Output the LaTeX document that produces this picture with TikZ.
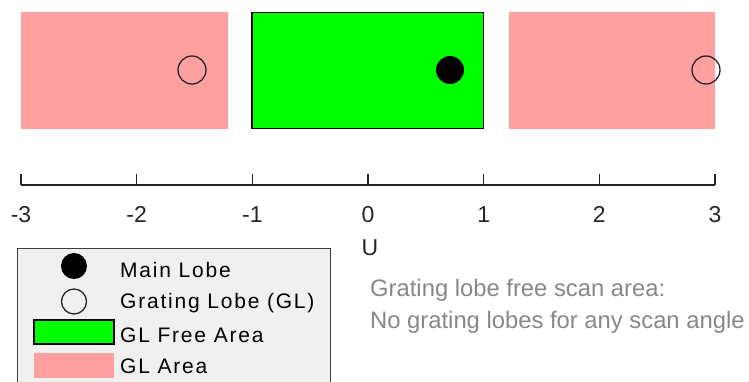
\documentclass[tikz,border=0pt]{standalone}
\usepackage{fontspec}
\setmainfont{Liberation Sans}
\definecolor{pinkarea}{RGB}{255,160,160}
\definecolor{greenarea}{RGB}{0,255,0}
\definecolor{axiscol}{RGB}{38,38,38}
\definecolor{notecol}{RGB}{135,135,135}
\definecolor{legbg}{RGB}{240,240,240}
\definecolor{legborder}{RGB}{60,60,60}
\begin{document}
\begin{tikzpicture}[x=1pt,y=-1pt,
  areabox/.style={rectangle, inner sep=0pt, outer sep=0pt},
  openlobe/.style={circle, draw=axiscol, line width=1.3pt, inner sep=0pt, minimum size=28pt},
  mainlobe/.style={circle, fill=black, inner sep=0pt, minimum size=28pt},
  ticklab/.style={font=\fontsize{23}{27}\selectfont, text=axiscol, inner sep=0pt, anchor=base},
  legtext/.style={font=\fontsize{21}{25}\selectfont\addfontfeature{LetterSpace=8.5}, text=black, inner sep=0pt, anchor=base west},
  notetext/.style={font=\fontsize{23.8}{28}\selectfont, text=notecol, inner sep=0pt, anchor=base west}]
\useasboundingbox (0,0) rectangle (749,381);
% areas
\node[areabox, fill=pinkarea, minimum width=206.5pt, minimum height=117pt] (glleft) at (124.25,70.5) {};
\node[areabox, fill=greenarea, draw=black, line width=1.5pt, minimum width=231.5pt, minimum height=116pt] (glfree) at (367.75,70.5) {};
\node[areabox, fill=pinkarea, minimum width=206.5pt, minimum height=117pt] (glright) at (611.75,70.5) {};
% lobes
\node[openlobe] (gl1) at (192,70) {};
\node[mainlobe] (ml) at (450,70) {};
\node[openlobe] (gl2) at (706,70) {};
% axis
\coordinate (axl) at (21,185);
\coordinate (axr) at (715,185);
\draw[axiscol, line width=1.3pt] (axl) -- (axr);
\foreach \i in {-3,...,3}{
  \coordinate (tk\i) at ({368+115.67*\i},185);
  \draw[axiscol, line width=1.3pt] (tk\i) -- ++(0,-11);
  \node[ticklab] (lab\i) at ({368+115.67*\i},222) {\i};
}
\node[ticklab] (ulab) at (370,255) {U};
% legend
\draw[fill=legbg, draw=legborder, line width=1pt] (17.5,248) rectangle (330,395);
\node[mainlobe, minimum size=26pt] (legml) at (74,266) {};
\node[openlobe, minimum size=25pt] (leggl) at (74,301.5) {};
\node[areabox, fill=greenarea, draw=black, line width=1.5pt, minimum width=80pt, minimum height=24pt] (leggreen) at (74,332) {};
\node[areabox, fill=pinkarea, minimum width=80pt, minimum height=25pt] (legpink) at (74,365.5) {};
\node[legtext] (t1) at (120,277) {Main Lobe};
\node[legtext] (t2) at (120,308.5) {Grating Lobe (GL)};
\node[legtext] (t3) at (120,342.7) {GL Free Area};
\node[legtext] (t4) at (120,373.3) {GL Area};
% note
\node[notetext] (n1) at (370,296) {Grating lobe free scan area:};
\node[notetext] (n2) at (370,328.3) {No grating lobes for any scan angle};
\end{tikzpicture}
\end{document}
